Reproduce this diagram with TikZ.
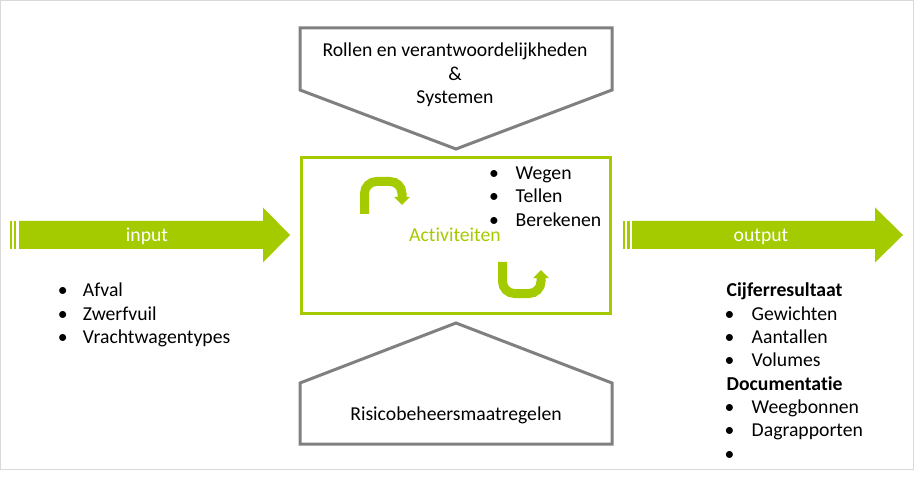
\documentclass[tikz,border=0pt]{standalone}
\usepackage{fontspec}
\setmainfont{Carlito}[Ligatures={NoCommon}]
\usetikzlibrary{arrows.meta}
\definecolor{lime}{RGB}{164,202,0}
\definecolor{shapegray}{RGB}{128,128,128}
\definecolor{framegray}{RGB}{217,217,217}
\tikzset{
  txt/.style={inner sep=0pt, anchor=base, font=\fontsize{19.7}{23}\selectfont},
  txtw/.style={inner sep=0pt, anchor=base west, font=\fontsize{19.7}{23}\selectfont},
  btxt/.style={txtw, font=\fontsize{19.7}{23}\selectfont\bfseries},
  bul/.style={inner sep=0pt, anchor=base, font=\fontsize{19.7}{23}\selectfont},
  grayshape/.style={draw=shapegray, line width=3pt, fill=white, line join=miter},
  fatarrow/.style={fill=lime, draw=none},
  uturn/.style={draw=lime, line width=9pt, rounded corners=12pt,
    -{Triangle[width=15pt,length=8pt]}},
}
\begin{document}
\begin{tikzpicture}[x=1pt,y=-1pt]
\useasboundingbox (0,0) rectangle (915,478);
\draw[framegray, line width=1pt] (0.5,0.5) rectangle (913.5,469.5);

% top pentagon
\draw[grayshape] (300,28) -- (612,28) -- (612,90) -- (456,149) -- (300,90) -- cycle;
\node[txt] (t1) at (455,56.7) {Rollen en verantwoordelijkheden};
\node[txt] (t2) at (455,80.3) {\&};
\node[txt] (t3) at (455,103.5) {Systemen};

% bottom pentagon
\draw[grayshape] (456,323) -- (612,383) -- (612,444) -- (300,444) -- (300,383) -- cycle;
\node[txt] (r1) at (456,420.7) {Risicobeheersmaatregelen};

% center box
\draw[lime, line width=3pt] (301.5,157.5) rectangle (610.5,313);
\node[txt, text=lime] (act) at (455,241.7) {Activiteiten};
\foreach \n/\y/\t in {w1/179.3/Wegen, w2/203/Tellen, w3/226.7/Berekenen}{
  \node[bul] at (494,\y) {•};
  \node[txtw] (\n) at (515.5,\y) {\t};
}
% u-turn arrows
\draw[uturn] (364.5,214) -- (364.5,181.5) -- (402,181.5) -- (402,205);
\draw[uturn] (502.5,262) -- (502.5,293.5) -- (541,293.5) -- (541,270);

% input arrow
\fill[lime] (10,221) rectangle (12,249);
\fill[lime] (13.5,221) rectangle (16,249);
\fill[fatarrow] (19,221) -- (263,221) -- (263,207.5) -- (290,235) -- (263,262.5) -- (263,249) -- (19,249) -- cycle;
\node[txt, text=white] (in) at (147,241.7) {input};

% output arrow
\fill[lime] (623,221) rectangle (625,249);
\fill[lime] (626.5,221) rectangle (629.5,249);
\fill[fatarrow] (632,221) -- (875,221) -- (875,207.5) -- (903,235) -- (875,262.5) -- (875,249) -- (632,249) -- cycle;
\node[txt, text=white] (out) at (761,241.7) {output};

% input list
\foreach \n/\y/\t in {a1/296.7/Afval, a2/320/Zwerfvuil, a3/343.3/Vrachtwagentypes}{
  \node[bul] at (62.7,\y) {•};
  \node[txtw] (\n) at (82.7,\y) {\t};
}

% output list
\node[btxt] (c0) at (726.5,296.7) {Cijferresultaat};
\foreach \n/\y/\t in {c1/320/Gewichten, c2/343.3/Aantallen, c3/366.7/Volumes}{
  \node[bul] at (729.5,\y) {•};
  \node[txtw] (\n) at (751.5,\y) {\t};
}
\node[btxt] (d0) at (726.5,390) {Documentatie};
\foreach \n/\y/\t in {d1/413.3/Weegbonnen, d2/436.7/Dagrapporten}{
  \node[bul] at (729.5,\y) {•};
  \node[txtw] (\n) at (751.5,\y) {\t};
}
\node[bul] (d3) at (729.5,460) {•};
\end{tikzpicture}
\end{document}
